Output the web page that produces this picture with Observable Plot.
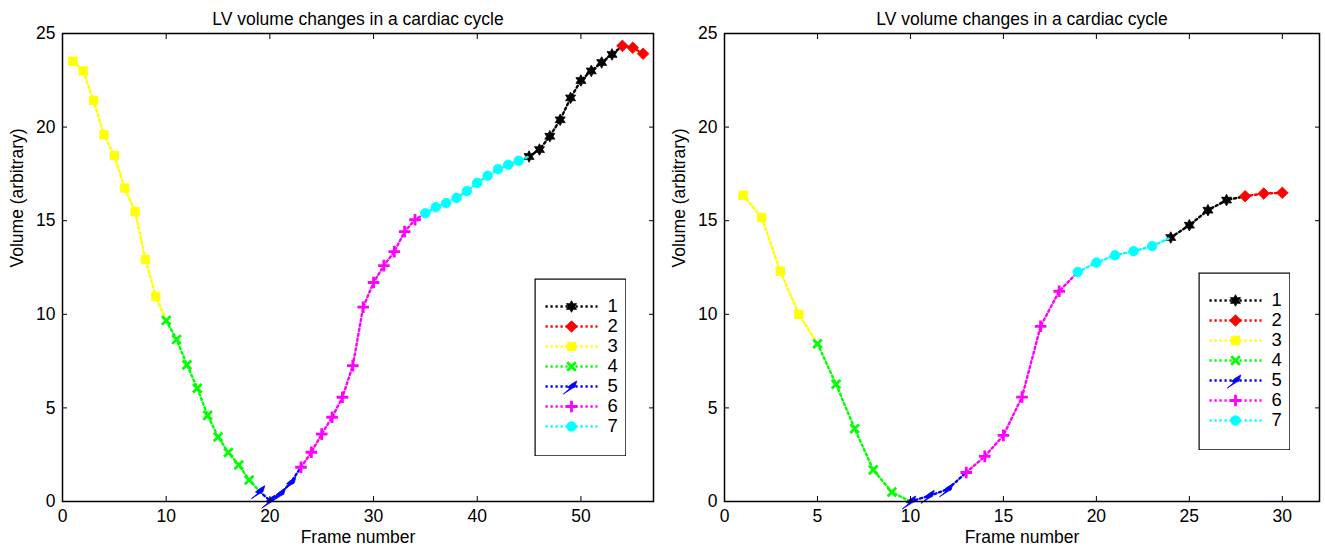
<!DOCTYPE html>
<html><head><meta charset="utf-8">
<script src="https://cdn.jsdelivr.net/npm/d3@7"></script>
<script src="https://cdn.jsdelivr.net/npm/@observablehq/plot@0.6"></script>
<style>
body{margin:0;background:#fff;}
#wrap{position:relative;width:1325px;height:551px;display:flex;background:#fff;}
.legend{position:absolute;}
svg{display:block;}
</style></head><body><div id="wrap"></div>
<script>
// ---- data ----
const seriesLabels = ["1","2","3","4","5","6","7"];
const seriesColors = ["#000000","#ff0000","#ffff00","#00ff00","#0000ff","#ff00ff","#00ffff"];
const phaseOrder = ["3","4","5","6","7","1","2"]; // order of phases along the frames
const leftCounts = [9,9,4,12,10,9,3];
const leftVolume = [
  23.52, 23.0, 21.42, 19.59, 18.48, 16.74, 15.49, 12.93, 10.95,
  9.67, 8.65, 7.3, 6.05, 4.6, 3.45, 2.62, 1.95, 1.15,
  0.55, 0.05, 0.41, 1.0,
  1.83, 2.63, 3.6, 4.5, 5.57, 7.26, 10.38, 11.7, 12.6, 13.35, 14.42, 15.05,
  15.4, 15.72, 15.94, 16.22, 16.58, 17.02, 17.4, 17.75, 17.99, 18.2,
  18.43, 18.8, 19.51, 20.39, 21.56, 22.49, 23.0, 23.45, 23.88,
  24.34, 24.24, 23.92
];
const rightCounts = [4,5,3,6,5,4,3];
const rightVolume = [
  16.36, 15.17, 12.3, 10.0,
  8.43, 6.26, 3.89, 1.69, 0.5,
  0.0, 0.3, 0.65,
  1.55, 2.41, 3.53, 5.58, 9.36, 11.23,
  12.26, 12.76, 13.15, 13.37, 13.64,
  14.1, 14.76, 15.56, 16.1,
  16.31, 16.45, 16.49
];
const leftXTicks = [0,10,20,30,40,50];
const rightXTicks = [0,5,10,15,20,25,30];
const yTicks = [0,5,10,15,20,25];
const titleText = "LV volume changes in a cardiac cycle";
const xLabel = "Frame number";
const yLabel = "Volume (arbitrary)";

// ---- symbols ----
function poly(pts){
  return {draw(ctx, size){
    const r = Math.sqrt(size/Math.PI);
    ctx.moveTo(pts[0][0]*r, pts[0][1]*r);
    for (const [a,b] of pts.slice(1)) ctx.lineTo(a*r, b*r);
    ctx.closePath();
  }};
}
const hexPts = d3.range(12).map(i => {
  const a = -Math.PI/2 + i*Math.PI/6, rr = i%2 ? 0.55 : 1;
  return [rr*Math.cos(a), rr*Math.sin(a)];
});
const symHex = poly(hexPts);
const symDiamond = poly([[0,-1],[1,0],[0,1],[-1,0]]);
const symSquare = poly([[-0.85,-0.85],[0.85,-0.85],[0.85,0.85],[-0.85,0.85]]);
const symBolt = poly([[-1.4,1.3],[-0.3,0.35],[-0.7,0.15],[-0.1,-0.35],[0.9,-0.95],[0.6,0.1],[0.15,0.3]]);
const symTimes = {draw(ctx,size){const r=Math.sqrt(size/Math.PI);ctx.moveTo(-r,-r);ctx.lineTo(r,r);ctx.moveTo(-r,r);ctx.lineTo(r,-r);}};
const symPlus = {draw(ctx,size){const r=Math.sqrt(size/Math.PI);ctx.moveTo(-r,0);ctx.lineTo(r,0);ctx.moveTo(0,-r);ctx.lineTo(0,r);}};
const symCircle = d3.symbolCircle;

const markerStyle = {
  "1": {symbol: symHex, r: 5.8, filled: true},
  "2": {symbol: symDiamond, r: 5.8, filled: true},
  "3": {symbol: symSquare, r: 5, filled: true},
  "4": {symbol: symTimes, r: 4.3, filled: false},
  "5": {symbol: symBolt, r: 5.8, filled: true},
  "6": {symbol: symPlus, r: 5.8, filled: false},
  "7": {symbol: symCircle, r: 4.8, filled: true}
};
const colorOf = s => seriesColors[seriesLabels.indexOf(s)];
function dotOpts(s){
  const m = markerStyle[s], c = colorOf(s);
  return m.filled
    ? {symbol: m.symbol, r: m.r, fill: c, stroke: c, strokeWidth: 0.8}
    : {symbol: m.symbol, r: m.r, fill: "none", stroke: c, strokeWidth: 2.8};
}

const FONT = "'Liberation Sans', Arial, Helvetica, sans-serif";
const LINE = {strokeWidth: 2.4, strokeDasharray: "2.2,2.8"};

function chart({volume, counts, xDomain, xTicks, width, marginRight}){
  const pts = [];
  let f = 1;
  phaseOrder.forEach((s,i) => {
    for (let k = 0; k < counts[i]; k++) { pts.push({frame: f, volume: volume[f-1], series: s}); f++; }
  });
  const segs = [];
  phaseOrder.forEach(s => {
    const own = pts.filter(p => p.series === s);
    const next = pts[own[own.length-1].frame]; // first point of next phase
    own.forEach(p => segs.push({...p, seg: s}));
    if (next) segs.push({...next, seg: s});
  });
  const marks = [];
  for (const s of seriesLabels) {
    marks.push(Plot.line(segs.filter(d => d.seg === s), {x: "frame", y: "volume", stroke: colorOf(s), ...LINE}));
    marks.push(Plot.dot(pts.filter(d => d.series === s), {x: "frame", y: "volume", ...dotOpts(s)}));
  }
  return Plot.plot({
    width, height: 551,
    marginLeft: 62, marginRight, marginTop: 33, marginBottom: 50,
    style: {fontFamily: FONT, fontSize: "17px", background: "#fff", color: "#000"},
    x: {domain: xDomain, axis: null},
    y: {domain: [0,25], axis: null},
    marks: [
      ...marks,
      Plot.axisX(xTicks, {anchor: "bottom", tickSize: -5, tickPadding: 13, fontSize: 17.5, label: null, tickFormat: d => String(d)}),
      Plot.axisX(xTicks, {anchor: "top", tickSize: -5, label: null, tickFormat: () => ""}),
      Plot.axisY(yTicks, {anchor: "left", tickSize: -5, tickPadding: 12, fontSize: 17.5, label: null, tickFormat: d => String(d)}),
      Plot.axisY(yTicks, {anchor: "right", tickSize: -5, label: null, tickFormat: () => ""}),
      Plot.frame({stroke: "#000", strokeWidth: 1.5}),
      Plot.text([titleText], {text: d => d, frameAnchor: "top", dy: -21, fontSize: 17.5}),
      Plot.text([xLabel], {text: d => d, frameAnchor: "bottom", dy: 41, fontSize: 17.5}),
      Plot.text([yLabel], {text: d => d, frameAnchor: "left", rotate: -90, dx: -45, fontSize: 17.5})
    ]
  });
}

function legend(){
  const marks = [];
  for (const s of seriesLabels) {
    marks.push(Plot.link([s], {x1: () => 0, x2: () => 1, y1: d => d, y2: d => d, stroke: colorOf(s), ...LINE}));
    marks.push(Plot.dot([s], {x: () => 0.5, y: d => d, ...dotOpts(s)}));
  }
  return Plot.plot({
    width: 92, height: 178, margin: 0,
    style: {fontFamily: FONT, fontSize: "18px", background: "#fff", color: "#000"},
    x: {domain: [0,1], range: [11,63], axis: null},
    y: {type: "point", domain: seriesLabels, range: [15, 160], axis: null},
    marks: [
      Plot.frame({stroke: "#000", strokeWidth: 1.2, inset: 0.6}),
      Plot.ruleX([1], {x: () => 1, y1: () => "1", y2: () => "7", stroke: "none"}),
      ...marks,
      Plot.text(seriesLabels, {x: () => 1, y: d => d, text: d => d, dx: 10, textAnchor: "start", fontSize: 18.5})
    ]
  });
}

const wrap = document.getElementById("wrap");
wrap.append(chart({volume: leftVolume, counts: leftCounts, xDomain: [0,57], xTicks: leftXTicks, width: 662, marginRight: 9}));
wrap.append(chart({volume: rightVolume, counts: rightCounts, xDomain: [0,32], xTicks: rightXTicks, width: 663, marginRight: 6}));
const l1 = legend(); l1.classList.add("legend"); l1.style.left = "534px"; l1.style.top = "278px";
const l2 = legend(); l2.classList.add("legend"); l2.style.left = "1198px"; l2.style.top = "272px";
wrap.append(l1, l2);
</script></body></html>
